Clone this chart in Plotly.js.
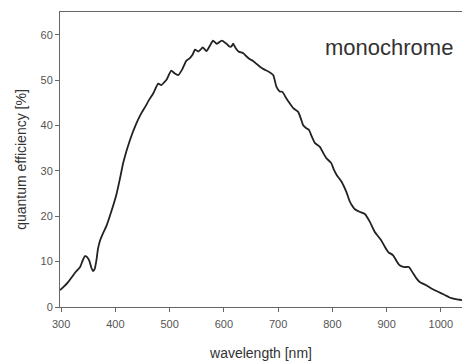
<!DOCTYPE html>
<html>
<head>
<meta charset="utf-8">
<script src="https://cdn.plot.ly/plotly-3.0.1.min.js"></script>
<style>html,body{margin:0;padding:0;background:#fff;}#chart{width:462px;height:361px;}</style>
</head>
<body>
<div id="chart"></div>
<script>
const wavelength = [298,305,313,320,326,335,340,344,348,352,356,359,362,365,368,372,376,384,393,402,408,415,427,439,447,455,463,470,479,485,490,495,503,509,516,523,531,537,542,547,553,557,561,568,574,580,587,596,605,610,614,617,622,627,636,641,648,654,660,666,675,682,691,697,703,708,714,719,728,737,742,746,752,757,762,768,777,783,789,798,803,808,817,826,832,836,841,850,860,869,878,890,897,903,912,918,924,933,941,949,955,961,973,981,989,1001,1008,1016,1025,1035,1040];
const efficiency = [3.7,4.5,5.5,6.6,7.6,8.8,10.3,11.2,11.0,10.2,8.6,7.9,8.4,10.2,12.8,14.7,15.9,18.0,21.2,24.8,28.0,32.0,36.8,40.5,42.5,44.1,45.8,47.1,49.2,48.9,49.5,50.2,52.1,51.5,51.1,52.3,54.3,54.8,55.5,56.7,56.3,56.7,57.2,56.4,57.5,58.7,58.0,58.7,58.0,57.4,57.4,58.0,57.0,56.3,55.9,55.3,54.6,54.2,53.6,53.0,52.3,51.9,51.1,48.5,47.5,47.4,46.2,45.3,43.8,43.0,41.5,40.1,39.4,39.0,37.6,36.1,35.3,34.0,32.8,31.7,30.2,29.1,27.6,25.3,23.3,22.4,21.6,21.0,20.5,18.8,16.6,14.7,13.2,12.1,11.4,10.2,9.2,8.8,8.8,7.4,6.3,5.5,4.8,4.2,3.7,3.0,2.6,2.1,1.8,1.6,1.5];
const xTicks = [300,400,500,600,700,800,900,1000];
const yTicks = [0,10,20,30,40,50,60];
const label = "monochrome";

const font = "Liberation Sans, Arial, Helvetica, sans-serif";
Plotly.newPlot('chart', [{
  x: wavelength, y: efficiency, type: 'scatter', mode: 'lines',
  line: {color: '#222', width: 1.8, shape: 'spline', smoothing: 0.5},
  hoverinfo: 'skip'
}], {
  width: 462, height: 361,
  margin: {l: 60, r: 0, t: 12, b: 54},
  paper_bgcolor: '#fff', plot_bgcolor: '#fff',
  showlegend: false,
  font: {family: font, color: '#555', size: 11},
  xaxis: {
    range: [298, 1039], tickvals: xTicks, ticks: 'outside', ticklen: 4, tickcolor: '#666',
    showline: true, linecolor: '#666', linewidth: 1, mirror: true, showgrid: false, zeroline: false,
    tickfont: {size: 11, color: '#555'}, ticklabelstandoff: 3,
    title: {text: 'wavelength [nm]', font: {size: 14, color: '#333'}, standoff: 18}
  },
  yaxis: {
    range: [0, 65], tickvals: yTicks, ticks: 'outside', ticklen: 4, tickcolor: '#666',
    showline: true, linecolor: '#666', linewidth: 1, showgrid: false, zeroline: false,
    tickfont: {size: 11, color: '#555'},
    title: {text: 'quantum efficiency [%]', font: {size: 14, color: '#333'}, standoff: 10}
  },
  annotations: [{
    text: label, xref: 'paper', yref: 'paper', x: 0.983, y: 0.881,
    xanchor: 'right', yanchor: 'middle', showarrow: false,
    font: {size: 22, color: '#333', family: font}
  }]
}, {displayModeBar: false, staticPlot: true});
</script>
</body>
</html>
